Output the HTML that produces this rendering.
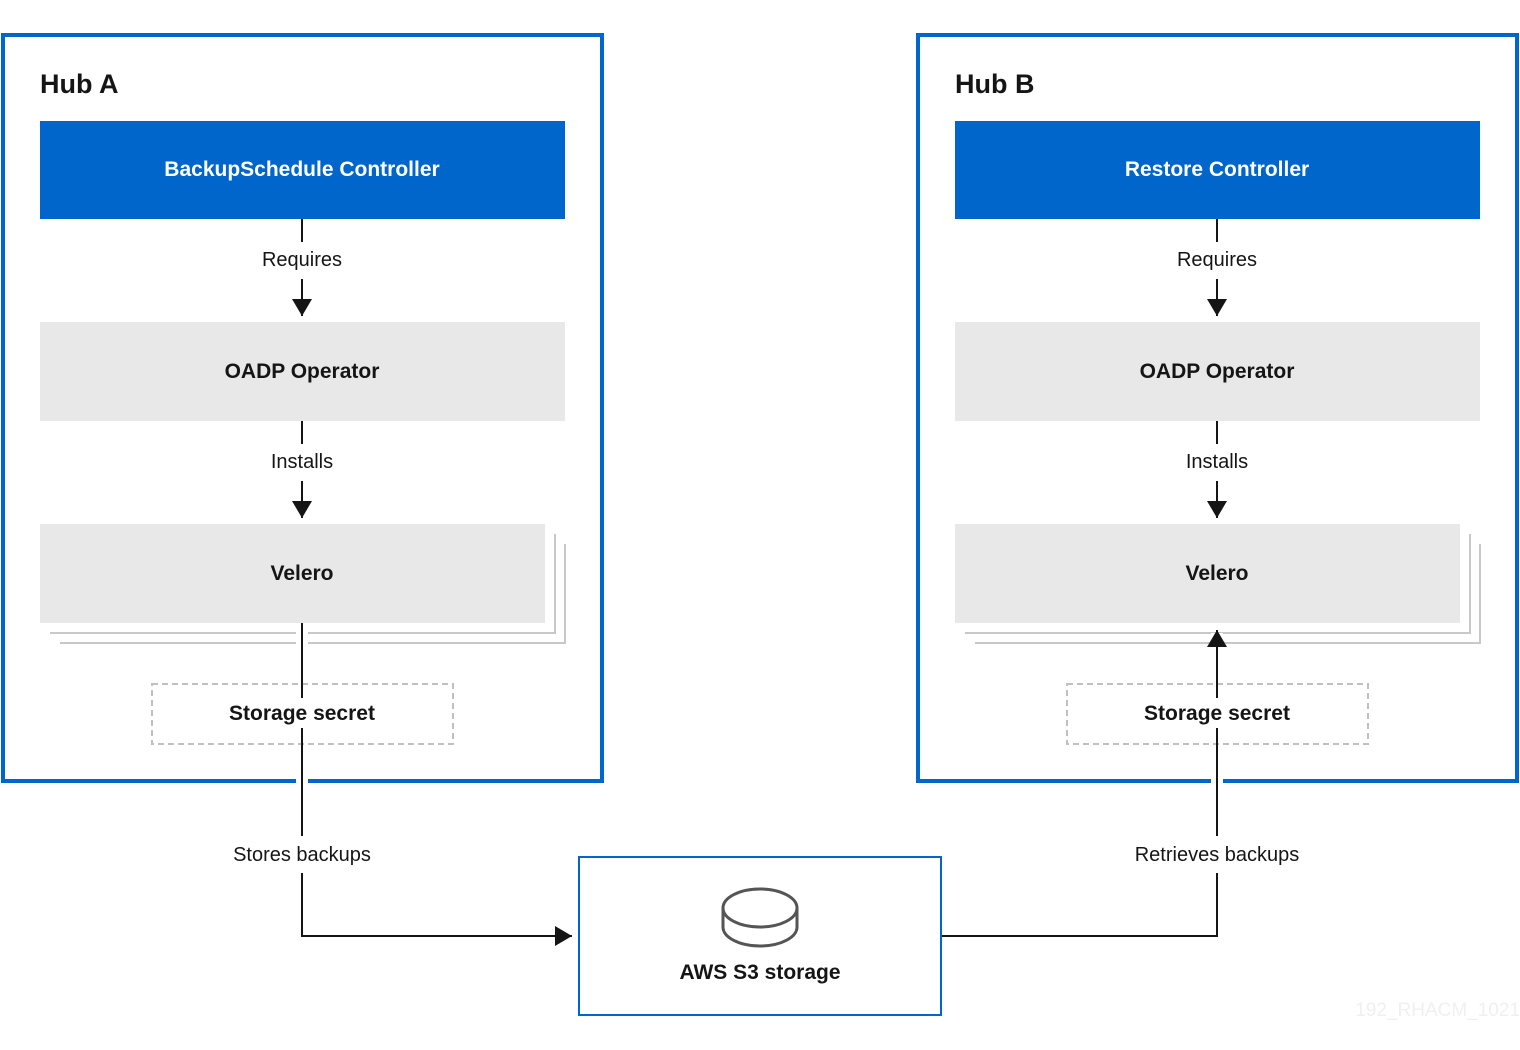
<!DOCTYPE html>
<html><head><style>body{margin:0;background:#fff}svg{display:block}text{font-family:"Liberation Sans",sans-serif}</style></head>
<body>
<svg width="1520" height="1050" viewBox="0 0 1520 1050" xmlns="http://www.w3.org/2000/svg">
<defs><marker id="ah" markerWidth="17" markerHeight="20" refX="10" refY="5" orient="auto" markerUnits="userSpaceOnUse" viewBox="0 0 10 10" preserveAspectRatio="none"><path d="M0,0 L10,5 L0,10z" fill="#151515"/></marker></defs>
<!-- Hub A -->
<rect x="3" y="35" width="599" height="746" fill="none" stroke="#0066cc" stroke-width="4"/>
<text x="40" y="93" font-size="27" font-weight="bold" fill="#151515">Hub A</text>
<rect x="40" y="121" width="525" height="98" fill="#0066cc"/>
<text x="302" y="176" font-size="21" fill="#fff" text-anchor="middle" font-weight="bold">BackupSchedule Controller</text>
<rect x="40" y="322" width="525" height="99" fill="#e8e8e8"/>
<text x="302" y="378" font-size="21" fill="#151515" text-anchor="middle" font-weight="bold">OADP Operator</text>
<polyline points="555,534 555,633 50,633" fill="none" stroke="#c8c8c8" stroke-width="2"/>
<polyline points="565,544 565,643 60,643" fill="none" stroke="#c8c8c8" stroke-width="2"/>
<rect x="40" y="524" width="505" height="99" fill="#e8e8e8"/>
<text x="302" y="580" font-size="21" fill="#151515" text-anchor="middle" font-weight="bold">Velero</text>
<rect x="152" y="684" width="301" height="60" fill="#fff" stroke="#c0c0c0" stroke-width="2" stroke-dasharray="6,4"/>
<!-- Hub B -->
<rect x="918" y="35" width="599" height="746" fill="none" stroke="#0066cc" stroke-width="4"/>
<text x="955" y="93" font-size="27" font-weight="bold" fill="#151515">Hub B</text>
<rect x="955" y="121" width="525" height="98" fill="#0066cc"/>
<text x="1217" y="176" font-size="21" fill="#fff" text-anchor="middle" font-weight="bold">Restore Controller</text>
<rect x="955" y="322" width="525" height="99" fill="#e8e8e8"/>
<text x="1217" y="378" font-size="21" fill="#151515" text-anchor="middle" font-weight="bold">OADP Operator</text>
<polyline points="1470,534 1470,633 965,633" fill="none" stroke="#c8c8c8" stroke-width="2"/>
<polyline points="1480,544 1480,643 975,643" fill="none" stroke="#c8c8c8" stroke-width="2"/>
<rect x="955" y="524" width="505" height="99" fill="#e8e8e8"/>
<text x="1217" y="580" font-size="21" fill="#151515" text-anchor="middle" font-weight="bold">Velero</text>
<rect x="1067" y="684" width="301" height="60" fill="#fff" stroke="#c0c0c0" stroke-width="2" stroke-dasharray="6,4"/>
<g stroke="#151515" stroke-width="2" fill="none">
<line x1="302" y1="219" x2="302" y2="242"/><line x1="302" y1="279" x2="302" y2="316" marker-end="url(#ah)"/>
<line x1="302" y1="421" x2="302" y2="444"/><line x1="302" y1="481" x2="302" y2="518" marker-end="url(#ah)"/>
<line x1="1217" y1="219" x2="1217" y2="242"/><line x1="1217" y1="279" x2="1217" y2="316" marker-end="url(#ah)"/>
<line x1="1217" y1="421" x2="1217" y2="444"/><line x1="1217" y1="481" x2="1217" y2="518" marker-end="url(#ah)"/>
</g>
<g stroke="#fff" stroke-width="12" fill="none">
<line x1="302" y1="626" x2="302" y2="646"/><line x1="302" y1="776" x2="302" y2="788"/>
<line x1="1217" y1="633" x2="1217" y2="646"/><line x1="1217" y1="776" x2="1217" y2="788"/>
</g>
<g stroke="#151515" stroke-width="2" fill="none">
<line x1="302" y1="623" x2="302" y2="698"/>
<polyline points="302,728 302,836"/>
<polyline points="302,873 302,936 572,936" marker-end="url(#ah)"/>
<polyline points="941,936 1217,936 1217,873"/>
<line x1="1217" y1="836" x2="1217" y2="728"/>
<line x1="1217" y1="698" x2="1217" y2="630" marker-end="url(#ah)"/>
</g>
<g font-size="20" fill="#151515" text-anchor="middle">
<text x="302" y="266">Requires</text><text x="302" y="468">Installs</text>
<text x="1217" y="266">Requires</text><text x="1217" y="468">Installs</text>
<text x="302" y="861">Stores backups</text><text x="1217" y="861">Retrieves backups</text>
</g>
<text x="302" y="720" font-size="21" fill="#151515" text-anchor="middle" font-weight="bold">Storage secret</text>
<text x="1217" y="720" font-size="21" fill="#151515" text-anchor="middle" font-weight="bold">Storage secret</text>
<rect x="579" y="857" width="362" height="158" fill="#fff" stroke="#0066cc" stroke-width="2"/>
<g fill="none" stroke="#555" stroke-width="3">
<ellipse cx="760" cy="908" rx="37" ry="19"/>
<path d="M723,908 V927 A37,19 0 0 0 797,927 V908"/>
</g>
<text x="760" y="979" font-size="21" fill="#151515" text-anchor="middle" font-weight="bold">AWS S3 storage</text>
<text x="1520" y="1016" font-size="19" fill="#f0f0f0" text-anchor="end">192_RHACM_1021</text>
</svg>
</body></html>
